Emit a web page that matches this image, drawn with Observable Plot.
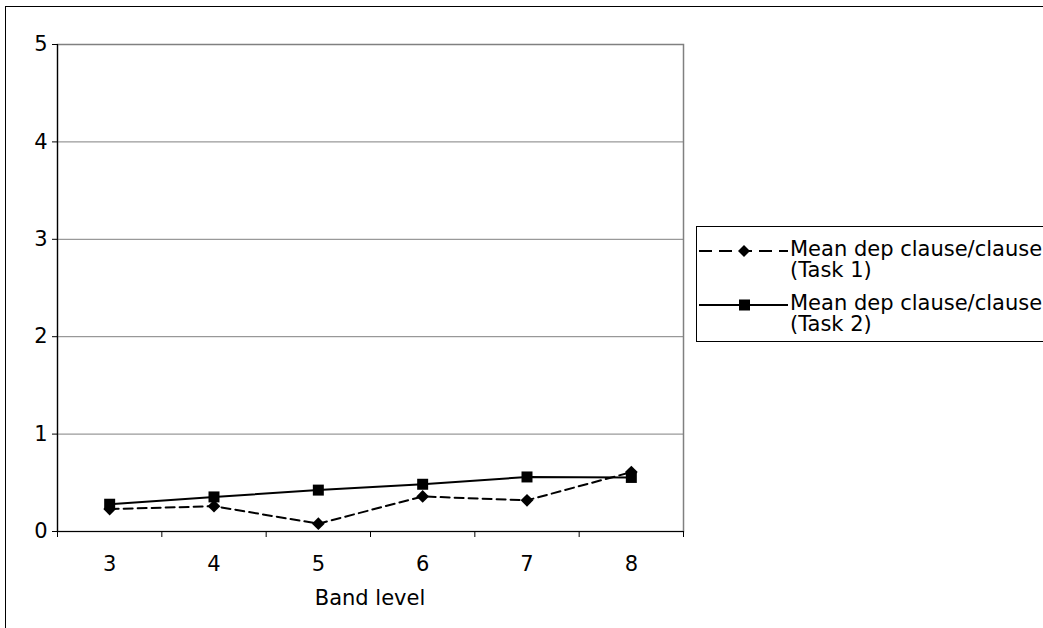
<!DOCTYPE html>
<html>
<head>
<meta charset="utf-8">
<script src="https://cdn.jsdelivr.net/npm/d3@7"></script>
<script src="https://cdn.jsdelivr.net/npm/@observablehq/plot@0.6"></script>
<style>
  html, body { margin: 0; padding: 0; background: #fff; }
  #wrap { position: relative; width: 1043px; height: 628px; overflow: hidden; font-family: "DejaVu Sans", Verdana, sans-serif; }
  #frame { position: absolute; left: 5px; top: 6px; width: 1100px; height: 700px; border-left: 1.5px solid #000; border-top: 1.5px solid #000; }
  #chart { position: absolute; left: 0; top: 0; }
  #xlabel { position: absolute; top: 586px; left: 57px; width: 626px; text-align: center; font-size: 21px; }
  #legend { position: absolute; left: 696px; top: 226px; width: 400px; height: 116px; border: 1px solid #000; background: #fff; box-sizing: border-box; }
  .entry { position: absolute; left: 0; }
  .entry svg { position: absolute; left: 1px; top: 0; }
  .entry .txt { position: absolute; left: 93px; top: 0; font-size: 21px; line-height: 21px; white-space: nowrap; }
</style>
</head>
<body>
<div id="wrap">
  <div id="frame"></div>
  <div id="chart"></div>
  <div id="xlabel"></div>
  <div id="legend"></div>
</div>
<script>
// Band levels on the x axis
const bands = [3, 4, 5, 6, 7, 8];
// Mean dependent clauses per clause, Task 1 and Task 2
const task1 = [0.23, 0.26, 0.08, 0.36, 0.32, 0.61];
const task2 = [0.28, 0.355, 0.425, 0.485, 0.56, 0.555];
// Y axis ticks
const yTicks = [0, 1, 2, 3, 4, 5];
// Series names and axis title
const seriesNames = ["Mean dep clause/clause\n(Task 1)", "Mean dep clause/clause\n(Task 2)"];
const xTitle = "Band level";

const rows1 = bands.map((b, i) => ({band: b, value: task1[i]}));
const rows2 = bands.map((b, i) => ({band: b, value: task2[i]}));
// category boundaries, where the x-axis tick marks sit
const bounds = [...bands.map(b => b - 0.5), bands[bands.length - 1] + 0.5];

// square-ish diamond and square marker shapes
const diamond = {draw(ctx, size) { const r = Math.sqrt(size) * 0.62; ctx.moveTo(0, -r); ctx.lineTo(r, 0); ctx.lineTo(0, r); ctx.lineTo(-r, 0); ctx.closePath(); }};
const square = {draw(ctx, size) { const h = Math.sqrt(size) / 2; ctx.rect(-h, -h, 2 * h, 2 * h); }};

const chart = Plot.plot({
  width: 1043,
  height: 628,
  marginLeft: 57,
  marginRight: 360,
  marginTop: 44,
  marginBottom: 97,
  style: {fontFamily: "DejaVu Sans, Verdana, sans-serif", fontSize: "21px", color: "#000", background: "transparent", overflow: "visible"},
  x: {domain: [bounds[0], bounds[bounds.length - 1]]},
  y: {domain: [0, 5]},
  marks: [
    Plot.gridY(yTicks, {stroke: "#808080", strokeOpacity: 1, strokeWidth: 1}),
    Plot.frame({stroke: "#808080", strokeWidth: 1.5}),
    Plot.ruleX([bounds[0]], {stroke: "#000", strokeWidth: 1.2}),
    Plot.ruleY([0], {stroke: "#000", strokeWidth: 1.2}),
    Plot.axisY(yTicks, {tickSize: 5, tickPadding: 5, tickFormat: d => String(d), label: null, stroke: "#000", fontSize: 21}),
    Plot.axisX(bounds, {tickSize: 6, tickFormat: () => "", label: null, stroke: "#000"}),
    Plot.axisX(bands, {tickSize: 0, tickPadding: 25, tickFormat: d => String(d), label: null, fontSize: 21}),
    Plot.line(rows1, {x: "band", y: "value", stroke: "#000", strokeWidth: 2, strokeDasharray: "9,5"}),
    Plot.line(rows2, {x: "band", y: "value", stroke: "#000", strokeWidth: 2}),
    Plot.dot(rows1, {x: "band", y: "value", symbol: diamond, r: 5.8, fill: "#000", stroke: "none"}),
    Plot.dot(rows2, {x: "band", y: "value", symbol: square, r: 6.2, fill: "#000", stroke: "none"})
  ]
});
document.getElementById("chart").appendChild(chart);
document.getElementById("xlabel").textContent = xTitle;

// legend: line sample with marker, then the series name
const legend = document.getElementById("legend");
const entryTops = [12, 66];
seriesNames.forEach((name, i) => {
  const e = document.createElement("div");
  e.className = "entry";
  e.style.top = entryTops[i] + "px";
  const dash = i === 0 ? ' stroke-dasharray="13,7"' : "";
  const marker = i === 0
    ? '<path d="M46,6 L52,12 L46,18 L40,12 Z" fill="#000"/>'
    : '<rect x="41" y="6.5" width="11" height="11" fill="#000"/>';
  e.innerHTML = `<svg width="92" height="24"><line x1="1" y1="12" x2="90" y2="12" stroke="#000" stroke-width="2"${dash}/>${marker}</svg>` +
    `<div class="txt">${name.replace("\n", "<br>")}</div>`;
  legend.appendChild(e);
});
</script>
</body>
</html>
